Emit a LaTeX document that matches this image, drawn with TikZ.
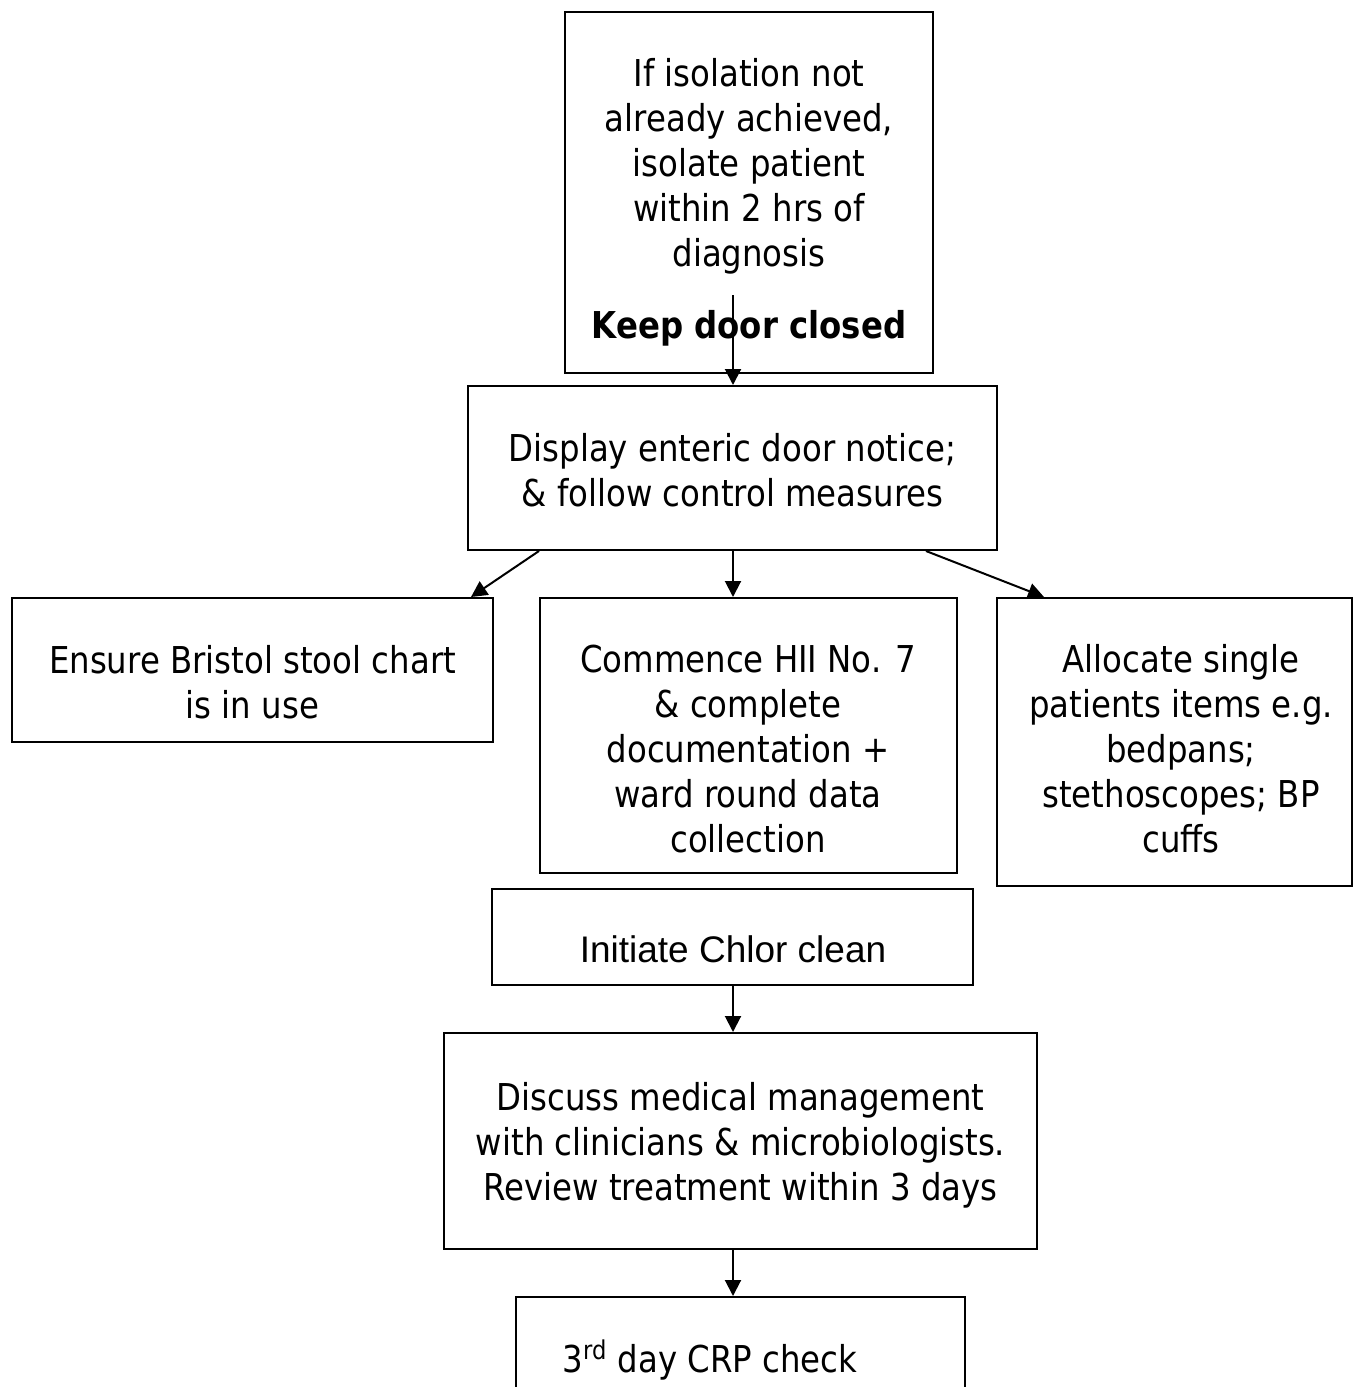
\documentclass[tikz,border=0pt]{standalone}
\usepackage{fontspec}
\setmainfont{DejaVu Sans}[FakeStretch=0.875]
\newfontfamily\arialf{Liberation Sans}
\usetikzlibrary{arrows.meta,fit,calc}
\newcommand{\tahsize}{\fontsize{18.5}{22.5}\selectfont}
\newcommand{\ml}[1]{\begin{tabular}[t]{@{}c@{}}#1\end{tabular}}
\tikzset{
  box/.style={draw=black, line width=1pt, inner sep=0pt, fill=white},
  txt/.style={inner sep=0pt, anchor=base, font=\tahsize},
  arr/.style={draw=black, line width=1pt, -{Triangle[length=8pt,width=8pt]}}
}
\begin{document}
\begin{tikzpicture}[x=0.5pt,y=-0.5pt]
\useasboundingbox (0,0) rectangle (1353,1387);
\clip (0,0) rectangle (1353,1387);
\fill[white] (0,0) rectangle (1353,1387);
% boxes
\node[box, fit={(565,12) (933,373)}] (top) {};
\node[box, fit={(468,386) (997,550)}] (disp) {};
\node[box, fit={(12,598) (493,742)}] (left) {};
\node[box, fit={(540,598) (957,873)}] (mid) {};
\node[box, fit={(997,598) (1352,886)}] (right) {};
\node[box, fit={(492,889) (973,985)}] (chlor) {};
\node[box, fit={(444,1033) (1037,1249)}] (disc) {};
\node[box, fit={(516,1297) (965,1420)}] (crp) {};
% texts
\node[txt] (tTop) at (749,86.5) {\ml{If isolation not\\ already achieved,\\ isolate patient\\ within 2 hrs of\\ diagnosis}};
\node[txt, font=\tahsize\bfseries] (tKeep) at (749,338) {Keep door closed};
\node[txt] (tDisp) at (732.5,461) {\ml{Display enteric door notice;\\ \& follow control measures}};
\node[txt] (tLeft) at (252.5,673) {\ml{Ensure Bristol stool chart\\ is in use}};
\node[txt] (tMid) at (748,672) {\ml{Commence HII No. 7\\ \& complete\\ documentation +\\ ward round data\\ collection}};
\node[txt] (tRight) at (1181,672) {\ml{Allocate single\\ patients items e.g.\\ bedpans;\\ stethoscopes; BP\\ cuffs}};
\node[txt, font=\arialf\tahsize] (tChlor) at (733,962) {Initiate Chlor clean};
\node[txt] (tDisc) at (740.5,1110) {\ml{Discuss medical management\\ with clinicians \& microbiologists.\\ Review treatment within 3 days}};
\node[txt] (tCrp) at (710,1372) {3\textsuperscript{rd} day CRP check};
% connectors
\coordinate (s1) at (733,295);
\draw[arr] (s1) -- (disp.north -| s1);
\draw[arr] (disp.south -| s1) -- (mid.north -| s1);
\draw[arr] ($(disp.south west)+(72,0)$) -- ($(left.north east)+(-23,0)$);
\draw[arr] ($(disp.south east)+(-72,0)$) -- ($(right.north west)+(48,0)$);
\draw[arr] (chlor.south -| s1) -- (disc.north -| s1);
\draw[arr] (disc.south -| s1) -- (crp.north -| s1);
\end{tikzpicture}
\end{document}
